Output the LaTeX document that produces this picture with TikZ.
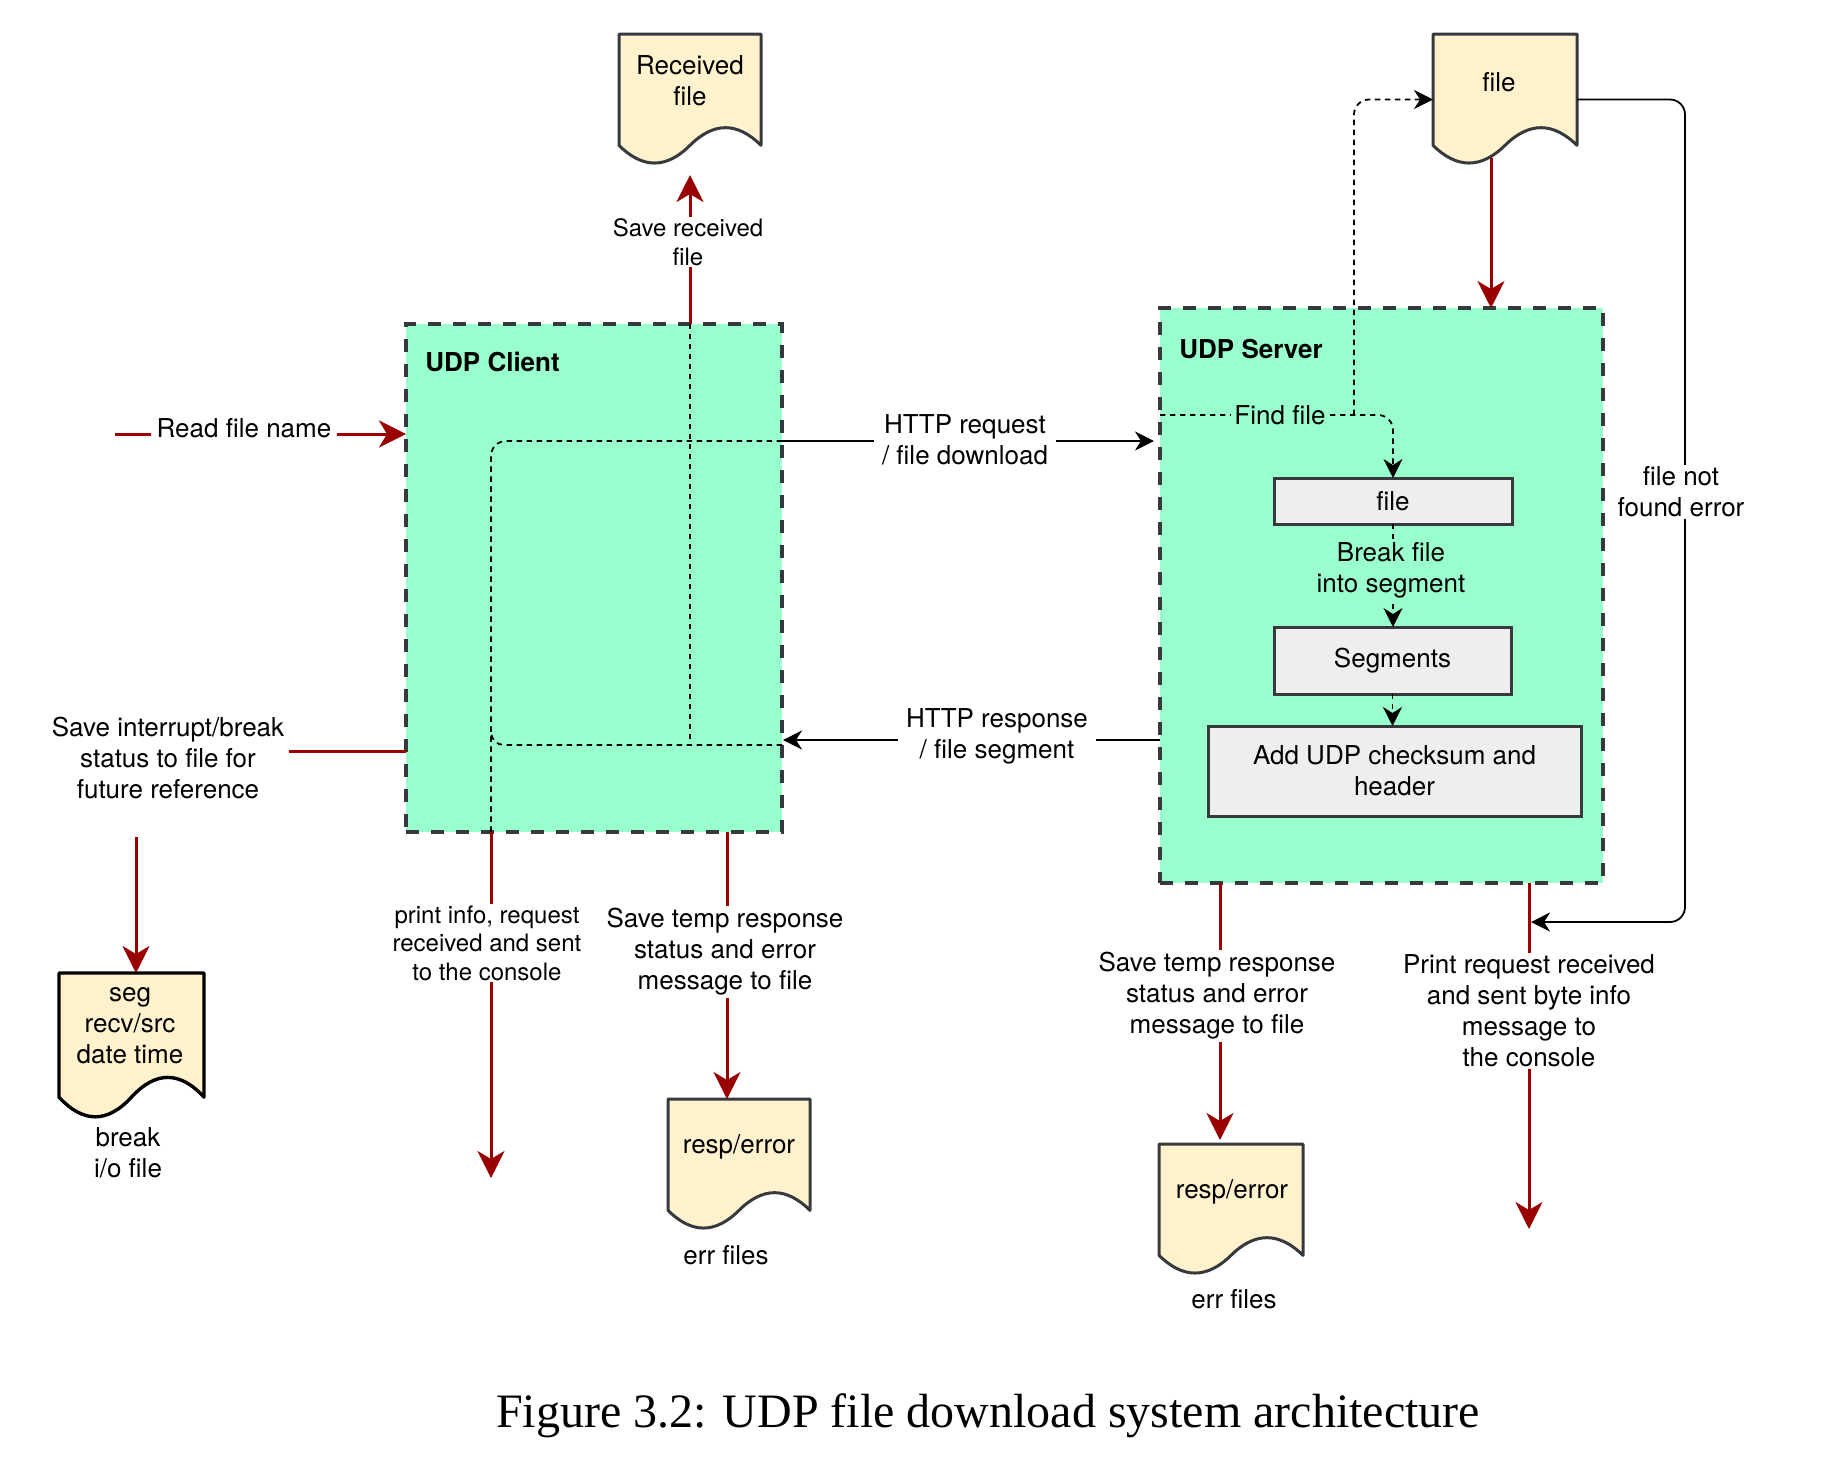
\documentclass[tikz,border=0pt]{standalone}
\usepackage{fontspec}
\setmainfont{Liberation Serif}
\setsansfont{TeX Gyre Heros}
\usetikzlibrary{arrows.meta,calc}
\definecolor{boxgreen}{HTML}{99FFCC}
\definecolor{boxgray}{HTML}{36393D}
\definecolor{docyellow}{HTML}{FFF2CC}
\definecolor{procgray}{HTML}{EEEEEE}
\definecolor{darkred}{HTML}{990000}
\newcommand{\docshape}[2]{%
  \path[#1] let \p1=(#2.north west), \p2=(#2.south east),
    \n1={\x2-\x1}, \n2={0.3*(\y1-\y2)} in
    (\p1) -- (\x2,\y1) -- (\x2,\y2+0.5*\n2)
    .. controls (\x2-\n1/6,\y2+1.1*\n2) and (\x1+2*\n1/3,\y2+1.1*\n2) .. (\x1+0.5*\n1,\y2+0.5*\n2)
    .. controls (\x1+\n1/3,\y2-0.1*\n2) and (\x1+\n1/6,\y2-0.1*\n2) .. (\x1,\y2+0.5*\n2) -- cycle;}
\begin{document}
\begin{tikzpicture}[x=0.5pt,y=-0.5pt,
  txt/.style={font=\sffamily\fontsize{13}{15.5}\selectfont, align=center, inner sep=0pt},
  stxt/.style={font=\sffamily\fontsize{12}{14.25}\selectfont, align=center, inner sep=0pt},
  boldtxt/.style={font=\sffamily\bfseries\fontsize{13}{15.5}\selectfont, inner sep=0pt, anchor=west},
  lblw/.style={fill=white, inner xsep=4pt, inner ysep=1pt},
  lblg/.style={fill=boxgreen, inner xsep=1.5pt, inner ysep=1pt},
  grp/.style={draw=boxgray, line width=1.6pt, dash pattern=on 6.5pt off 6pt, fill=boxgreen,
    anchor=north west, inner sep=0pt, outer sep=0pt},
  proc/.style={draw=boxgray, line width=1.5pt, fill=procgray, anchor=north west,
    inner sep=0pt, outer sep=0pt, font=\sffamily\fontsize{13}{15.5}\selectfont, align=center},
  docbox/.style={anchor=north west, inner sep=0pt, outer sep=0pt, minimum width=72pt, minimum height=65.5pt},
  docline/.style={draw=boxgray, line width=1.5pt, fill=docyellow, line join=round},
  redln/.style={draw=darkred, line width=1.5pt},
  redarr/.style={redln, -{Stealth[length=13.5pt,width=13.5pt,inset=4pt]}},
  blk/.style={draw=black, line width=0.9pt},
  blkarr/.style={blk, -{Stealth[length=9.5pt,width=9.5pt,inset=3pt]}},
  dashln/.style={blk, dash pattern=on 2.7pt off 2.3pt},
  dasharr/.style={dashln, -{Stealth[length=9.5pt,width=9.5pt,inset=3pt]}},
]
% background and bounding box
\fill[white] (0,0) rectangle (1844,1464);

% document shapes
\node[docbox, minimum width=71pt] (recv) at (619,34) {};
\node[docbox] (srcfile) at (1433,34) {};
\node[docbox, minimum width=72.5pt, minimum height=73pt] (seg) at (59,973) {};
\node[docbox, minimum width=71pt] (err1) at (668,1099) {};
\node[docbox] (err2) at (1159,1144) {};
\docshape{docline}{recv}
\docshape{docline}{srcfile}
\docshape{docline, draw=black, line width=1.7pt}{seg}
\docshape{docline}{err1}
\docshape{docline}{err2}
\node[txt] (recvT) at (690,81) {Received\\file};
\node[txt] (srcT) at (1499,82) {file};
\node[txt] (segT) at (130,1026) {seg\\recv/src\\date time};
\node[txt] (err1T) at (739,1147) {resp/error};
\node[txt] (err2T) at (1232,1192) {resp/error};
\node[txt] (segL) at (128,1153) {break\\i/o file};
\node[txt] (err1L) at (726,1255) {err files};
\node[txt] (err2L) at (1234,1299) {err files};

% group boxes
\node[grp, minimum width=188pt, minimum height=254pt] (client) at (406,324) {};
\node[grp, minimum width=221.5pt, minimum height=287.5pt] (server) at (1160,308) {};
\node[boldtxt] (clientT) at (425,362) {UDP Client};
\node[boldtxt] (serverT) at (1179,349) {UDP Server};

% server process boxes
\node[proc, minimum width=119pt, minimum height=23pt] (fileB) at (1274,478) {file};
\node[proc, minimum width=118.5pt, minimum height=33.5pt] (segB) at (1274,627) {Segments};
\node[proc, minimum width=186.5pt, minimum height=45pt] (addB) at (1208,726) {Add UDP checksum and\\header};

% helper coordinates
\coordinate (rfS) at (115,434);
\coordinate (reqY) at (0,441);
\coordinate (resY) at (0,740);
\coordinate (inA) at (491,441);
\coordinate (inB) at (491,745);
\coordinate (piEnd) at (491,1178);
\coordinate (st1) at (727,0);
\coordinate (siEnd) at (289,751);
\coordinate (siStart) at (136,837);
\coordinate (srcS) at (1491,158);
\coordinate (ffY) at (0,415);
\coordinate (ffJ) at (1354,415);
\coordinate (fnCorner) at (1685,922);
\coordinate (fnEnd) at (1531,922);
\coordinate (st2) at (1220,0);
\coordinate (prEnd) at (1529,1229);

% client connectors
\draw[redarr] (rfS) -- (rfS -| client.west);
\draw[redarr, shorten >=5pt] (client.north -| recv.south) -- (recv.south);
\draw[dashln] (client.north -| recv.south) -- (inB -| recv.south);
\draw[dashln, rounded corners=7.5pt] (client.east |- reqY) -- (inA) -- (inA |- client.south);
\draw[dashln, rounded corners=6.5pt] (client.east |- inB) -- (inB) -- ($(inB)+(0,-16)$);
\draw[blkarr, shorten >=3pt] (client.east |- reqY) -- (server.west |- reqY);
\draw[blkarr, shorten >=0.5pt] (server.west |- resY) -- (client.east |- resY);
\draw[redln] (client.west |- siEnd) -- (siEnd);
\draw[redarr] (siStart) -- (siStart |- seg.north);
\draw[redarr] (piEnd |- client.south) -- (piEnd);
\draw[redarr] (client.south -| st1) -- (err1.north -| st1);

% server connectors
\draw[redarr] (srcS) -- (srcS |- server.north);
\draw[dasharr, rounded corners=7.5pt] (server.west |- ffY) -- (fileB.north |- ffY) -- (fileB.north);
\draw[dasharr, rounded corners=7.5pt] (ffJ) |- (srcfile.west);
\draw[blkarr, rounded corners=7.5pt] (srcfile.east) -| (fnCorner) -- (fnEnd);
\draw[dasharr] (fileB.south) -- (fileB.south |- segB.north);
\draw[dasharr] (segB.south) -- (segB.south |- addB.north);
\draw[redarr, shorten >=2pt] (server.south -| st2) -- (err2.north -| st2);
\draw[redarr] (server.south -| prEnd) -- (prEnd);

% connector labels
\node[txt, lblw, inner xsep=3pt, inner ysep=3pt] (rfL) at (244,428) {Read file name};
\node[stxt, lblw] (srL) at (688,242) {Save received\\file};
\node[txt, lblw] (reqL) at (965,440) {HTTP request\\/ file download};
\node[txt, lblw] (resL) at (997,736) {HTTP response\\/ file segment};
\node[txt] (siL) at (168,758) {Save interrupt/break\\status to file for\\future reference};
\node[stxt, lblw] (piL) at (487,943) {print info, request\\received and sent\\to the console};
\node[txt, lblw] (st1L) at (725,952) {Save temp response\\status and error\\message to file};
\node[txt, lblg] (ffL) at (1280,415) {Find file};
\node[txt, lblg] (bfL) at (1391,570) {Break file\\into segment};
\node[txt, lblw] (fnL) at (1681,492) {file not\\found error};
\node[txt, lblw] (st2L) at (1217,996) {Save temp response\\status and error\\message to file};
\node[txt, lblw] (prL) at (1529,1011) {Print request received\\and sent byte info\\message to\\the console};

% caption
\node[font=\rmfamily\fontsize{24}{28}\selectfont, anchor=base, inner sep=0pt] (cap) at (988,1427)
  {Figure 3.2: UDP file download system architecture};
\end{tikzpicture}
\end{document}
